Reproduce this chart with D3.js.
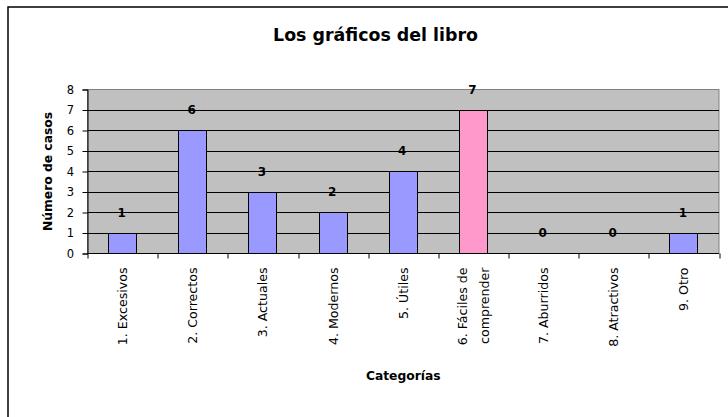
<!DOCTYPE html>
<html>
<head>
<meta charset="utf-8">
<script src="https://cdn.jsdelivr.net/npm/d3@7"></script>
<style>
  body { margin: 0; background: #fff; }
  svg { display: block; }
</style>
</head>
<body>
<script>
// chart data
var categories = ["1. Excesivos", "2. Correctos", "3. Actuales", "4. Modernos", "5. Útiles",
  "6. Fáciles de|comprender", "7. Aburridos", "8. Atractivos", "9. Otro"];
var casos = [1, 6, 3, 2, 4, 7, 0, 0, 1];
var highlight = "6. Fáciles de|comprender";
var yTicks = [0, 1, 2, 3, 4, 5, 6, 7, 8];

var W = 728, H = 417;
var margin = {top: 89.5, right: 9, bottom: 163.5, left: 87.5},
  width = W - margin.left - margin.right,
  height = H - margin.top - margin.bottom;

var svg = d3.select("body").append("svg")
  .attr("width", W)
  .attr("height", H);

// outer chart frame (runs off the right/bottom of the picture)
svg.append("rect")
  .attr("x", 8).attr("y", 7)
  .attr("width", 760).attr("height", 440)
  .attr("fill", "#fff")
  .attr("stroke", "#000")
  .attr("stroke-width", 1.5);

svg.append("text")
  .attr("x", 375.5).attr("y", 41)
  .attr("text-anchor", "middle")
  .style("font-family", "DejaVu Sans")
  .style("font-weight", "bold")
  .style("font-size", "17.4px")
  .text("Los gráficos del libro");

var g = svg.append("g")
  .attr("transform", "translate(" + margin.left + "," + margin.top + ")");

var xCat = d3.scaleBand().domain(categories).range([0, width]);
var x = d3.scaleBand().domain(categories).range([0, width])
  .paddingInner(0.6).paddingOuter(0.3);
var y = d3.scaleLinear().domain([0, 8]).range([height, 0]);

// plot area
g.append("rect")
  .attr("width", width).attr("height", height)
  .attr("fill", "#c0c0c0")
  .attr("stroke", "#808080");

// gridlines
g.append("g")
  .selectAll("line")
  .data(yTicks.slice(1, -1))
  .join("line")
  .attr("x1", 0).attr("x2", width)
  .attr("y1", function(d) { return Math.round(y(d)); })
  .attr("y2", function(d) { return Math.round(y(d)); })
  .attr("stroke", "#000");

// bars
g.append("g")
  .selectAll("rect")
  .data(casos)
  .join("rect")
  .attr("x", function(d, i) { return Math.round(x(categories[i])); })
  .attr("y", function(d) { return Math.round(y(d)); })
  .attr("width", Math.round(x.bandwidth()))
  .attr("height", function(d) { return Math.round(y(0)) - Math.round(y(d)); })
  .attr("fill", function(d, i) { return categories[i] === highlight ? "#ff99cc" : "#9999ff"; })
  .attr("stroke", "#000")
  .attr("stroke-width", 1);

// value labels
g.append("g")
  .selectAll("text")
  .data(casos)
  .join("text")
  .attr("x", function(d, i) { return x(categories[i]) + x.bandwidth() / 2 - 1; })
  .attr("y", function(d) { return y(d) - 16.5; })
  .attr("text-anchor", "middle")
  .style("font-family", "DejaVu Sans")
  .style("font-weight", "bold")
  .style("font-size", "12px")
  .text(function(d) { return d; });

// y axis
var yAxis = d3.axisLeft(y).tickValues(yTicks).tickSize(5).tickPadding(8.5)
  .tickFormat(d3.format("d"));
g.append("g")
  .call(yAxis)
  .call(function(s) {
    s.select(".domain").attr("stroke", "#000");
    s.selectAll(".tick line").attr("stroke", "#000");
    s.selectAll("text")
      .style("font-family", "DejaVu Sans")
      .style("font-size", "11.5px")
      .attr("fill", "#000");
  });

// x axis: ticks between categories, like Excel
var bounds = categories.map(function(c) { return xCat(c); }).concat([width]);
g.append("line")
  .attr("x1", 0).attr("x2", width)
  .attr("y1", height).attr("y2", height)
  .attr("stroke", "#000");
g.append("g")
  .selectAll("line")
  .data(bounds)
  .join("line")
  .attr("x1", function(d) { return Math.round(d) + 0.5; })
  .attr("x2", function(d) { return Math.round(d) + 0.5; })
  .attr("y1", height).attr("y2", height + 5)
  .attr("stroke", "#000");

var lbl = g.append("g")
  .selectAll("text")
  .data(categories)
  .join("text")
  .attr("transform", function(d) {
    return "translate(" + (xCat(d) + xCat.bandwidth() / 2) + "," + (height + 14) + ") rotate(-90)";
  })
  .attr("text-anchor", "end")
  .style("font-family", "DejaVu Sans")
  .style("font-size", "12.6px");
lbl.each(function(d) {
  var lines = d.split("|");
  var t = d3.select(this);
  lines.forEach(function(line, k) {
    var off = (k - (lines.length - 1) / 2) * 21.5;
    t.append("tspan")
      .attr("x", 0)
      .attr("y", off)
      .attr("dy", "0.35em")
      .text(line);
  });
});

// axis titles
svg.append("text")
  .attr("transform", "translate(52," + (margin.top + height / 2) + ") rotate(-90)")
  .attr("text-anchor", "middle")
  .style("font-family", "DejaVu Sans")
  .style("font-weight", "bold")
  .style("font-size", "12.3px")
  .text("Número de casos");

svg.append("text")
  .attr("x", margin.left + width / 2)
  .attr("y", 380)
  .attr("text-anchor", "middle")
  .style("font-family", "DejaVu Sans")
  .style("font-weight", "bold")
  .style("font-size", "12.3px")
  .text("Categorías");
</script>
</body>
</html>
